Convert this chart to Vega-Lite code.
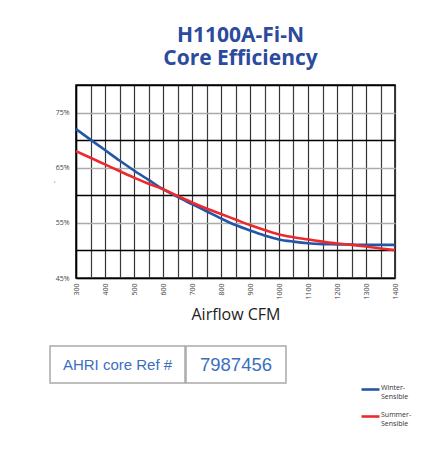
{
  "$schema": "https://vega.github.io/schema/vega-lite/v6.json",
  "background": "white",
  "padding": {"left": 48, "top": 24, "right": 5, "bottom": 5},
  "config": {"font": "Open Sans", "view": {"stroke": null}},
  "spacing": 22,
  "vconcat": [
    {
      "spacing": -3,
      "hconcat": [
        {
          "width": 1,
          "height": 193,
          "data": {"values": []},
          "mark": "point"
        },
        {
          "width": 319,
          "height": 193,
          "view": {"stroke": "black", "strokeWidth": 1.5},
          "title": {
            "text": ["H1100A-Fi-N", "Core Efficiency"],
            "font": "Open Sans",
            "fontSize": 21,
            "fontWeight": "bold",
            "color": "#2c4a9e",
            "anchor": "middle",
            "frame": "group",
            "dx": 5,
            "lineHeight": 23,
            "offset": 16
          },
          "data": {
            "values": [
              {"cfm": 300, "efficiency": 72.0, "series": "Winter-Sensible"},
              {"cfm": 350, "efficiency": 70.1, "series": "Winter-Sensible"},
              {"cfm": 400, "efficiency": 68.2, "series": "Winter-Sensible"},
              {"cfm": 450, "efficiency": 66.3, "series": "Winter-Sensible"},
              {"cfm": 500, "efficiency": 64.5, "series": "Winter-Sensible"},
              {"cfm": 550, "efficiency": 62.8, "series": "Winter-Sensible"},
              {"cfm": 600, "efficiency": 61.1, "series": "Winter-Sensible"},
              {"cfm": 650, "efficiency": 59.7, "series": "Winter-Sensible"},
              {"cfm": 700, "efficiency": 58.4, "series": "Winter-Sensible"},
              {"cfm": 750, "efficiency": 57.1, "series": "Winter-Sensible"},
              {"cfm": 800, "efficiency": 55.8, "series": "Winter-Sensible"},
              {"cfm": 850, "efficiency": 54.6, "series": "Winter-Sensible"},
              {"cfm": 900, "efficiency": 53.6, "series": "Winter-Sensible"},
              {"cfm": 950, "efficiency": 52.7, "series": "Winter-Sensible"},
              {"cfm": 1000, "efficiency": 52.0, "series": "Winter-Sensible"},
              {"cfm": 1050, "efficiency": 51.6, "series": "Winter-Sensible"},
              {"cfm": 1100, "efficiency": 51.3, "series": "Winter-Sensible"},
              {"cfm": 1150, "efficiency": 51.15, "series": "Winter-Sensible"},
              {"cfm": 1200, "efficiency": 51.1, "series": "Winter-Sensible"},
              {"cfm": 1250, "efficiency": 51.05, "series": "Winter-Sensible"},
              {"cfm": 1300, "efficiency": 51.0, "series": "Winter-Sensible"},
              {"cfm": 1350, "efficiency": 51.0, "series": "Winter-Sensible"},
              {"cfm": 1400, "efficiency": 51.0, "series": "Winter-Sensible"},
              {"cfm": 300, "efficiency": 68.0, "series": "Summer-Sensible"},
              {"cfm": 350, "efficiency": 66.8, "series": "Summer-Sensible"},
              {"cfm": 400, "efficiency": 65.6, "series": "Summer-Sensible"},
              {"cfm": 450, "efficiency": 64.4, "series": "Summer-Sensible"},
              {"cfm": 500, "efficiency": 63.2, "series": "Summer-Sensible"},
              {"cfm": 550, "efficiency": 62.1, "series": "Summer-Sensible"},
              {"cfm": 600, "efficiency": 61.1, "series": "Summer-Sensible"},
              {"cfm": 650, "efficiency": 59.9, "series": "Summer-Sensible"},
              {"cfm": 700, "efficiency": 58.7, "series": "Summer-Sensible"},
              {"cfm": 750, "efficiency": 57.6, "series": "Summer-Sensible"},
              {"cfm": 800, "efficiency": 56.6, "series": "Summer-Sensible"},
              {"cfm": 850, "efficiency": 55.6, "series": "Summer-Sensible"},
              {"cfm": 900, "efficiency": 54.6, "series": "Summer-Sensible"},
              {"cfm": 950, "efficiency": 53.7, "series": "Summer-Sensible"},
              {"cfm": 1000, "efficiency": 52.9, "series": "Summer-Sensible"},
              {"cfm": 1050, "efficiency": 52.4, "series": "Summer-Sensible"},
              {"cfm": 1100, "efficiency": 52.0, "series": "Summer-Sensible"},
              {"cfm": 1150, "efficiency": 51.6, "series": "Summer-Sensible"},
              {"cfm": 1200, "efficiency": 51.25, "series": "Summer-Sensible"},
              {"cfm": 1250, "efficiency": 51.0, "series": "Summer-Sensible"},
              {"cfm": 1300, "efficiency": 50.7, "series": "Summer-Sensible"},
              {"cfm": 1350, "efficiency": 50.35, "series": "Summer-Sensible"},
              {"cfm": 1400, "efficiency": 50.05, "series": "Summer-Sensible"}
            ]
          },
          "mark": {"type": "line", "interpolate": "monotone", "strokeWidth": 2.6},
          "encoding": {
            "x": {
              "field": "cfm",
              "type": "quantitative",
              "scale": {"domain": [300, 1400], "nice": false, "zero": false},
              "axis": {
                "values": [300, 350, 400, 450, 500, 550, 600, 650, 700, 750, 800, 850, 900, 950, 1000, 1050, 1100, 1150, 1200, 1250, 1300, 1350, 1400],
                "format": "d",
                "labelExpr": "datum.value % 100 == 0 ? datum.label : ''",
                "labelAngle": -90,
                "labelAlign": "right",
                "labelBaseline": "middle",
                "labelFontSize": 7,
                "labelColor": "#444",
                "labelPadding": 5,
                "ticks": false,
                "domain": true,
                "domainColor": "black",
                "domainWidth": 1.5,
                "grid": true,
                "gridColor": {"condition": {"test": "datum.value % 100 == 0", "value": "#333333"}, "value": "#3a3a3a"},
                "gridWidth": 1.2,
                "title": "Airflow CFM",
                "titleFont": "Open Sans",
                "titleFontSize": 16,
                "titleFontWeight": "normal",
                "titleColor": "#222",
                "titlePadding": 7
              }
            },
            "y": {
              "field": "efficiency",
              "type": "quantitative",
              "scale": {"domain": [45, 80], "nice": false, "zero": false},
              "axis": {
                "values": [45, 50, 55, 60, 65, 70, 75, 80],
                "labelExpr": "datum.value % 10 == 5 ? datum.value + '%' : ''",
                "labelFontSize": 7,
                "labelColor": "#444",
                "labelPadding": 7,
                "ticks": false,
                "domain": true,
                "domainColor": "black",
                "domainWidth": 1.5,
                "grid": true,
                "gridColor": {"condition": {"test": "datum.value % 10 == 0", "value": "#000000"}, "value": "#aaaaaa"},
                "gridWidth": 1.3,
                "title": "..",
                "titleFontSize": 6,
                "titleFontWeight": "normal",
                "titleColor": "#555",
                "titlePadding": 0
              }
            },
            "color": {
              "field": "series",
              "type": "nominal",
              "scale": {"domain": ["Winter-Sensible", "Summer-Sensible"], "range": ["#2456a6", "#ec2a2e"]},
              "legend": {
                "title": null,
                "orient": "none",
                "legendX": 310,
                "legendY": 294,
                "symbolType": "stroke",
                "symbolSize": 324,
                "symbolStrokeWidth": 2.6,
                "labelFont": "Open Sans",
                "labelFontSize": 7,
                "labelColor": "#333",
                "labelOffset": 0,
                "labelBaseline": "alphabetic",
                "labelExpr": "[split(datum.label, '-')[0] + '-', split(datum.label, '-')[1]]",
                "rowPadding": 6
              }
            }
          }
        }
      ]
    },
    {
      "spacing": -2,
      "hconcat": [
        {
          "width": 135,
          "height": 37,
          "view": {"stroke": "#a9a9a9", "strokeWidth": 1.5},
          "data": {"values": [{"text": "AHRI core Ref #"}]},
          "mark": {"type": "text", "font": "Liberation Sans", "fontSize": 15, "color": "#3a6fbf", "align": "center", "baseline": "middle"},
          "encoding": {"text": {"field": "text"}}
        },
        {
          "width": 100,
          "height": 37,
          "view": {"stroke": "#a9a9a9", "strokeWidth": 1.5},
          "data": {"values": [{"text": "7987456"}]},
          "mark": {"type": "text", "font": "Liberation Sans", "fontSize": 18.5, "color": "#3a6fbf", "align": "center", "baseline": "middle"},
          "encoding": {"text": {"field": "text"}}
        }
      ]
    }
  ]
}
